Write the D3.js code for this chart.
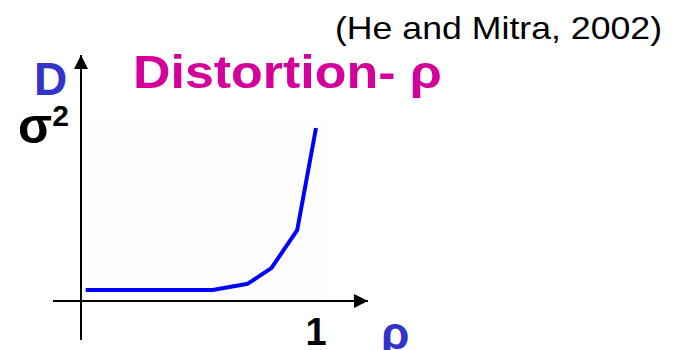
<!DOCTYPE html>
<html>
<head>
<meta charset="utf-8">
<script src="https://cdn.jsdelivr.net/npm/d3@7"></script>
<style>
  html, body { margin: 0; padding: 0; background: #ffffff; }
  svg { display: block; }
</style>
</head>
<body>
<svg id="chart" width="679" height="350"></svg>
<script>
// Distortion D as a function of the fraction of zero coefficients ρ
const rho = [0.02, 0.56, 0.71, 0.81, 0.92, 1.0];
const distortion = [0.064, 0.064, 0.10, 0.19, 0.41, 1.0];

// Tick labels: ρ = 1 on the x axis, D = σ² on the y axis
const xTickValues = [1];
const xTickLabels = ["1"];
const yTickValues = [1];

const svg = d3.select("#chart");
const font = "'Liberation Sans', Arial, sans-serif";

const x = d3.scaleLinear().domain([0, 1]).range([81, 316]);
const y = d3.scaleLinear().domain([0, 1]).range([301, 128]);

// faint plot panel
svg.append("rect")
  .attr("x", 82).attr("y", 118)
  .attr("width", 245).attr("height", 182)
  .attr("fill", "#fdfdfe");

// arrow heads
const defs = svg.append("defs");
defs.append("marker")
  .attr("id", "arrow")
  .attr("viewBox", "0 0 10 10")
  .attr("refX", 10).attr("refY", 5)
  .attr("markerWidth", 14).attr("markerHeight", 14)
  .attr("markerUnits", "userSpaceOnUse")
  .attr("orient", "auto")
  .append("path")
  .attr("d", "M0,0 L10,5 L0,10 Z")
  .attr("fill", "#000");

// x axis (horizontal arrow)
svg.append("line")
  .attr("x1", 53).attr("y1", y(0))
  .attr("x2", 368).attr("y2", y(0))
  .attr("stroke", "#000").attr("stroke-width", 2)
  .attr("marker-end", "url(#arrow)");

// y axis (vertical arrow)
svg.append("line")
  .attr("x1", x(0)).attr("y1", 340)
  .attr("x2", x(0)).attr("y2", 55)
  .attr("stroke", "#000").attr("stroke-width", 2)
  .attr("marker-end", "url(#arrow)");

// distortion curve
const line = d3.line()
  .x((d, i) => x(rho[i]))
  .y(d => y(d));

svg.append("path")
  .datum(distortion)
  .attr("d", line)
  .attr("fill", "none")
  .attr("stroke", "#0000ff")
  .attr("stroke-width", 4)
  .attr("stroke-linejoin", "round");

// x tick label "1"
svg.selectAll(".xtick")
  .data(xTickValues)
  .enter().append("text")
  .attr("class", "xtick")
  .attr("x", d => x(d))
  .attr("y", 345)
  .attr("text-anchor", "middle")
  .attr("font-family", font)
  .attr("font-weight", "bold")
  .attr("font-size", 38)
  .attr("fill", "#000")
  .text((d, i) => xTickLabels[i]);

// y tick label "σ²"
const yt = svg.selectAll(".ytick")
  .data(yTickValues)
  .enter().append("text")
  .attr("class", "ytick")
  .attr("x", 18)
  .attr("y", d => y(d) + 15)
  .attr("font-family", font)
  .attr("font-weight", "bold")
  .attr("font-size", 50)
  .attr("fill", "#000");
yt.append("tspan").text("σ");
yt.append("tspan")
  .attr("font-size", 30)
  .attr("dy", -17)
  .text("2");

// axis titles
svg.append("text")
  .attr("x", 34).attr("y", 95)
  .attr("font-family", font)
  .attr("font-weight", "bold")
  .attr("font-size", 46)
  .attr("fill", "#3333cc")
  .text("D");

svg.append("text")
  .attr("x", 381).attr("y", 349)
  .attr("font-family", font)
  .attr("font-weight", "bold")
  .attr("font-size", 46)
  .attr("fill", "#3333cc")
  .text("ρ");

// chart title
svg.append("text")
  .attr("x", 133).attr("y", 88)
  .attr("font-family", font)
  .attr("font-weight", "bold")
  .attr("font-size", 46)
  .attr("textLength", 309)
  .attr("lengthAdjust", "spacingAndGlyphs")
  .attr("fill", "#d4009a")
  .text("Distortion- ρ");

// citation
svg.append("text")
  .attr("x", 335).attr("y", 39)
  .attr("font-family", font)
  .attr("font-size", 32)
  .attr("textLength", 327)
  .attr("lengthAdjust", "spacingAndGlyphs")
  .attr("fill", "#000")
  .text("(He and Mitra, 2002)");
</script>
</body>
</html>
